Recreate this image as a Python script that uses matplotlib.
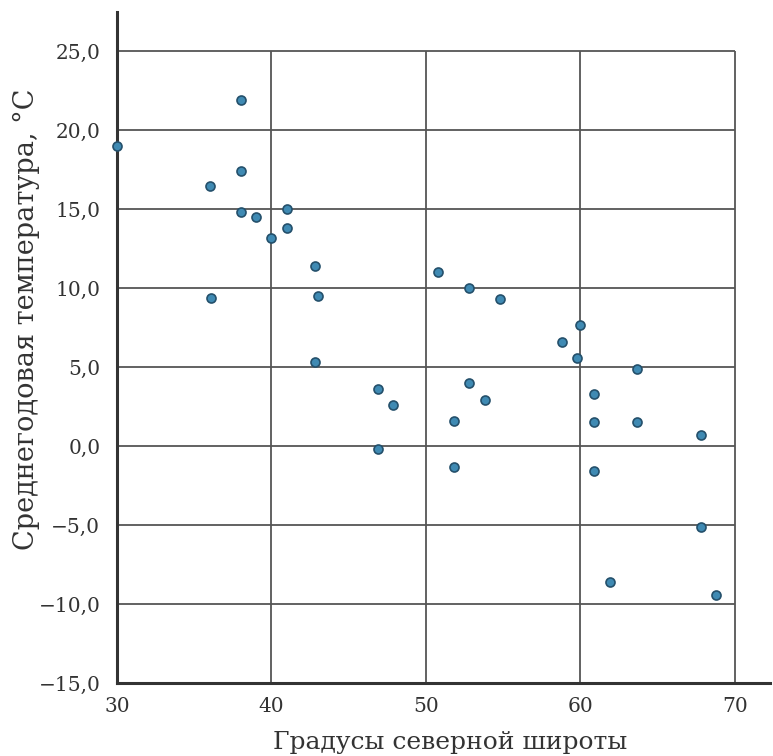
import matplotlib
matplotlib.use("Agg")
import matplotlib.pyplot as plt
from matplotlib.ticker import FuncFormatter

latitude = [30, 38, 36, 38, 38, 39, 40, 41, 41, 36.1, 42.8, 43, 42.8,
            46.9, 47.9, 46.9, 50.8, 52.8, 54.8, 51.8, 52.8, 53.8, 51.8,
            58.8, 60, 59.8, 60.9, 60.9, 60.9, 63.7, 63.7, 61.9, 67.8, 67.8, 68.8]
temperature = [19.0, 21.9, 16.5, 17.4, 14.8, 14.5, 13.2, 15.0, 13.8, 9.4, 11.4, 9.5, 5.3,
               3.6, 2.6, -0.2, 11.0, 10.0, 9.3, 1.6, 4.0, 2.9, -1.3,
               6.6, 7.7, 5.6, 3.3, 1.5, -1.6, 4.9, 1.5, -8.6, 0.7, -5.1, -9.4]

x_ticks = [30, 40, 50, 60, 70]
y_ticks = [-15, -10, -5, 0, 5, 10, 15, 20, 25]
x_label = "Градусы северной широты"
y_label = "Среднегодовая температура, °C"

plt.rcParams['font.family'] = ['DejaVu Serif']
text_color = "#333333"

fig = plt.figure(figsize=(7.73, 7.56), dpi=100)
ax = fig.add_axes([0.1514, 0.0966, 0.845, 0.8876])
ax.set_xlim(30, 72.3)
ax.set_ylim(-15, 27.5)

# grid restricted to the 30-70 / -15..25 box
ax.hlines(y_ticks[1:], x_ticks[0], x_ticks[-1], color="#555555", lw=1.3, zorder=1)
ax.vlines(x_ticks[1:], y_ticks[0], y_ticks[-1], color="#555555", lw=1.3, zorder=1)

ax.scatter(latitude, temperature, s=42, facecolor="#3f8ab3", edgecolor="#24506b",
           linewidth=1.2, zorder=3, clip_on=False)

for s in ["top", "right"]:
    ax.spines[s].set_visible(False)
for s in ["left", "bottom"]:
    ax.spines[s].set_linewidth(2.2)
    ax.spines[s].set_color("#333333")

ax.set_xticks(x_ticks)
ax.set_yticks(y_ticks)
ax.yaxis.set_major_formatter(FuncFormatter(lambda v, p: f"{v:.1f}".replace(".", ",").replace("-", "\u2212")))
ax.tick_params(length=0, labelsize=14.5, colors=text_color, pad=12)
ax.tick_params(axis="x", pad=10)

ax.set_xlabel(x_label, fontsize=18, color=text_color)
ax.set_ylabel(y_label, fontsize=19.5, color=text_color)
ax.xaxis.set_label_coords(0.51, -0.072)
ax.yaxis.set_label_coords(-0.118, 0.542)

fig.savefig("out.png", dpi=100)
